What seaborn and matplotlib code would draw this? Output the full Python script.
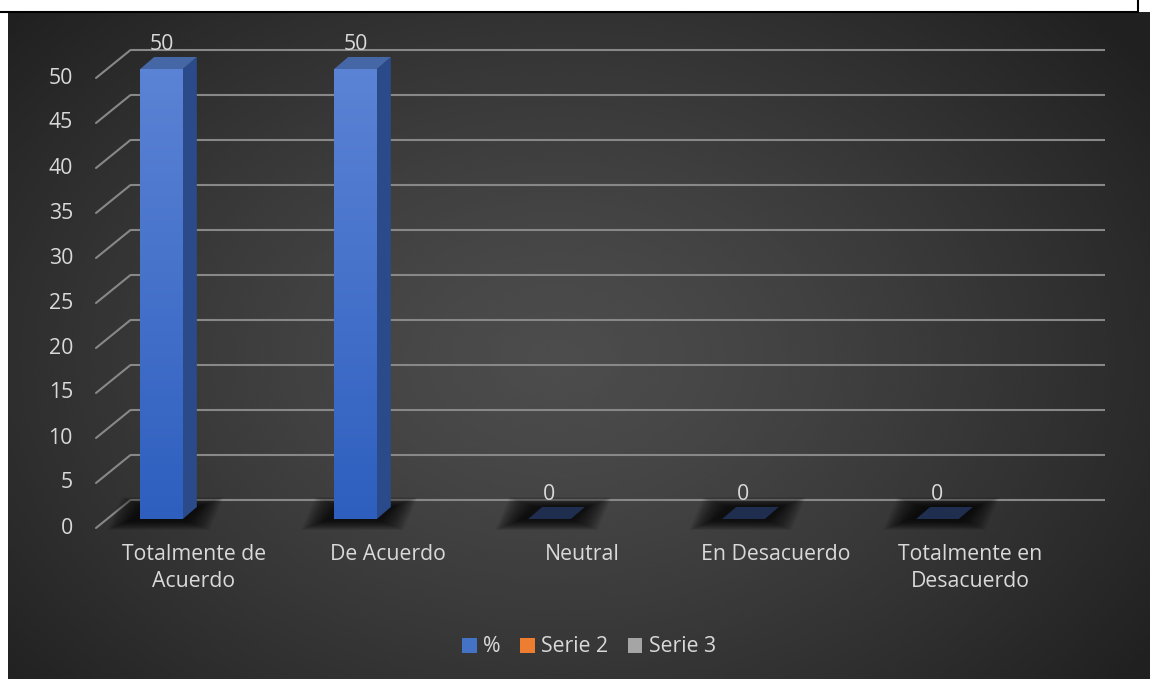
"""
Grafico de barras 3D (estilo Excel) - nivel de acuerdo (%)
"""
import numpy as np
import pandas as pd
import matplotlib.pyplot as plt
import seaborn as sns
from matplotlib.colors import LinearSegmentedColormap
from matplotlib.lines import Line2D
from matplotlib.patches import Polygon, Patch

# Datos
categorias = ["Totalmente de\nAcuerdo", "De Acuerdo", "Neutral",
              "En Desacuerdo", "Totalmente en\nDesacuerdo"]
porcentajes = [50, 50, 0, 0, 0]
ticks_y = list(range(0, 55, 5))
series_leyenda = ["%", "Serie 2", "Serie 3"]
colores_leyenda = ["#4472c4", "#ed7d31", "#a5a5a5"]

TEXTO = "#d9d9d9"
GRID = "#888888"
FS = 15.3

sns.set_theme(style="white")
plt.rcParams["font.family"] = ["Open Sans", "DejaVu Sans"]

W, H = 1150, 679
fig = plt.figure(figsize=(W / 100, H / 100), dpi=100)
fig.patch.set_facecolor("white")

# Fondo oscuro con degradado radial
bg = fig.add_axes([8 / W, 0, 1 - 8 / W, (H - 12) / H])
yy, xx = np.mgrid[0:1:300j, 0:1:500j]
r = np.sqrt(((xx - 0.48) / 0.62) ** 2 + ((yy - 0.52) / 0.75) ** 2)
fondo = np.clip(0.3 - 0.165 * r ** 1.3, 0.13, 0.3)
bg.imshow(fondo, cmap="gray", vmin=0, vmax=1, aspect="auto",
          extent=[0, 1, 0, 1], interpolation="bicubic")
bg.axis("off")

# Borde superior (marco del documento)
fig.add_artist(Line2D([0, 1138 / W], [1 - 11.5 / H] * 2, transform=fig.transFigure,
                      color="black", lw=1.5))
fig.add_artist(Line2D([1138 / W] * 2, [1, 1 - 11.5 / H], transform=fig.transFigure,
                      color="black", lw=1.5))

# Ejes principales (plano frontal de las barras)
x0_px, y0_px, ancho_px, alto_px = 64.5, 519, 970, 495
ax = fig.add_axes([x0_px / W, (H - y0_px) / H, ancho_px / W, alto_px / H])
ymax = 55
px_x = 5 / ancho_px
px_y = ymax / alto_px

df = pd.DataFrame({"categoria": categorias, "valor": porcentajes})
sns.barplot(data=df, x="categoria", y="valor", ax=ax, width=0.22,
            color="#4f79cc", saturation=1, linewidth=0, zorder=4)
ax.set_xlim(-0.5, 4.5)
ax.set_ylim(0, ymax)
ax.axis("off")

# Pared del fondo: lineas horizontales y diagonales de perspectiva
for t in ticks_y:
    xf, yf = -0.5 + 31.5 * px_x, t - 9 * px_y
    xw, yw = -0.5 + 66 * px_x, t + 19 * px_y
    ax.plot([xw, 4.5 + 70 * px_x], [yw, yw], color=GRID, lw=1.5,
            zorder=1, clip_on=False, solid_capstyle="butt")
    ax.plot([xf, xw], [yf, yw], color=GRID, lw=1.5, zorder=1, clip_on=False)
    ax.text(xf - 23 * px_x, yf, str(t), ha="right", va="center",
            color=TEXTO, fontsize=FS, clip_on=False)

# Caras laterales, superiores, sombras y degradado frontal
cmap_frente = LinearSegmentedColormap.from_list("frente", ["#2e5fbf", "#5b83d5"])
sx, sy = 14 * px_x, 12 * px_y
for p, v in zip(ax.patches, porcentajes):
    x0, w, h = p.get_x(), p.get_width(), p.get_height()
    # sombra difusa
    for k in range(20):
        m = k * 1.3
        sombra = [(x0 - (8 + m) * px_x, -(1 + 0.4 * m) * px_y),
                  (x0 + w + (2 + m) * px_x, -(1 + 0.4 * m) * px_y),
                  (x0 + w + sx + (2 + m) * px_x, sy + (0.4 * m) * px_y),
                  (x0 + sx - (8 + m) * px_x, sy + (0.4 * m) * px_y)]
        ax.add_patch(Polygon(sombra, closed=True, color="black", alpha=0.06,
                             lw=0, zorder=2, clip_on=False))
    lado = [(x0 + w, 0), (x0 + w + sx, sy), (x0 + w + sx, h + sy), (x0 + w, h)]
    tapa = [(x0, h), (x0 + w, h), (x0 + w + sx, h + sy), (x0 + sx, h + sy)]
    color_tapa = "#4667a6" if h > 0 else "#1f2d4f"
    ax.add_patch(Polygon(lado, closed=True, color="#2a4a8a", lw=0, zorder=3,
                         clip_on=False))
    ax.add_patch(Polygon(tapa, closed=True, color=color_tapa, lw=0, zorder=5,
                         clip_on=False))
    if h > 0:
        grad = np.linspace(0, 1, 100).reshape(-1, 1)
        im = ax.imshow(grad, cmap=cmap_frente, origin="lower", aspect="auto",
                       extent=[x0, x0 + w, 0, h], zorder=4.5)
        im.set_clip_path(p)
    ax.text(x0 + w / 2, v + 25 * px_y, f"{v:g}", ha="center", va="center",
            color=TEXTO, fontsize=FS, zorder=6, clip_on=False)

ax.set_xlim(-0.5, 4.5)
ax.set_ylim(0, ymax)

# Etiquetas de categoria
for i, cat in enumerate(categorias):
    ax.text(i + 32.5 * px_x, -25 * px_y, cat, ha="center", va="top",
            color=TEXTO, fontsize=FS, linespacing=1.35, clip_on=False)

# Leyenda
handles = [Patch(facecolor=c, edgecolor="none") for c in colores_leyenda]
fig.legend(handles, series_leyenda, loc="center", bbox_to_anchor=(589 / W, 1 - 647 / H),
           ncol=3, frameon=False, fontsize=FS, labelcolor=TEXTO,
           handlelength=0.7, handleheight=0.7, handletextpad=0.3,
           columnspacing=0.9)

fig.savefig("out.png", dpi=100)
